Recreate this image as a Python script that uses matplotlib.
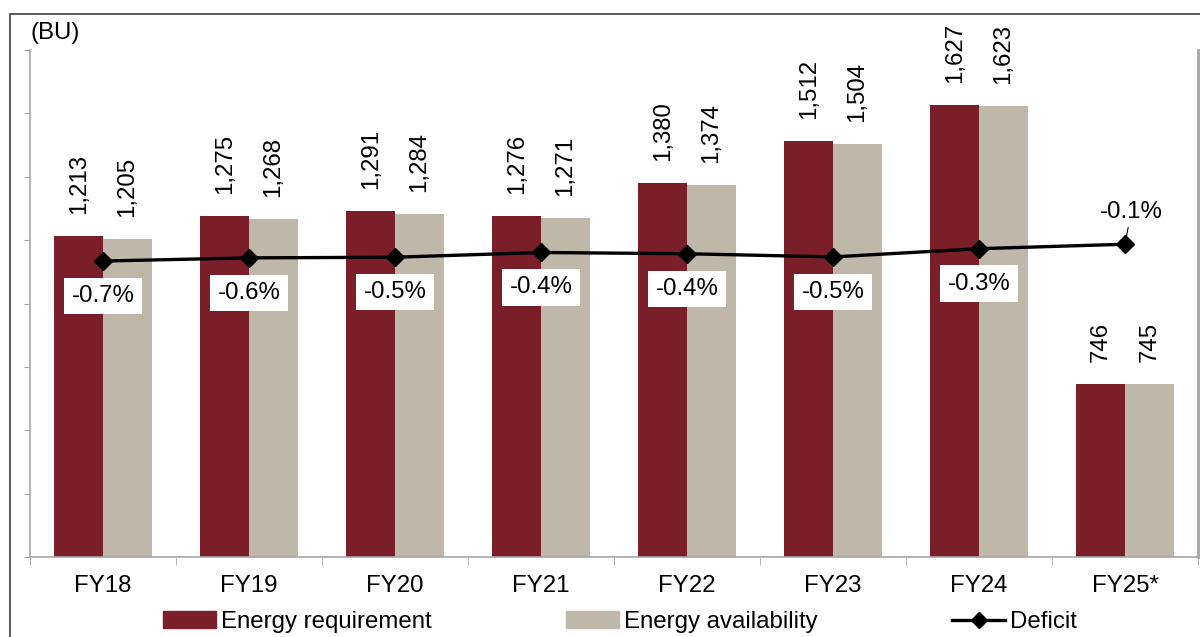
import matplotlib
matplotlib.use("Agg")
import matplotlib.pyplot as plt
from matplotlib.patches import Rectangle
from matplotlib.lines import Line2D
import numpy as np

plt.rcParams['font.family'] = ['Liberation Sans', 'DejaVu Sans']

categories = ["FY18", "FY19", "FY20", "FY21", "FY22", "FY23", "FY24", "FY25*"]
requirement = [1213, 1275, 1291, 1276, 1380, 1512, 1627, 746]
availability = [1205, 1268, 1284, 1271, 1374, 1504, 1623, 745]
deficit = [-0.66, -0.56, -0.54, -0.39, -0.43, -0.53, -0.27, -0.13]

RED = "#7A1E29"
GRAY = "#BEB7AA"
AXC = "#A6A6A6"
FS = 17.3

fig = plt.figure(figsize=(12, 6.37), dpi=100)
ax = fig.add_axes([30/1200, 1-557/637, (1198-30)/1200, (557-50)/637])

x = np.arange(len(categories))
w = 1/3
ax.bar(x - w/2, requirement, width=w, color=RED, zorder=2)
ax.bar(x + w/2, availability, width=w, color=GRAY, zorder=2)

for xi, v in zip(x - w/2, requirement):
    ax.annotate(f"{v:,}", xy=(xi, v), xytext=(0, 22), textcoords="offset pixels",
                rotation=90, ha="center", va="bottom", fontsize=FS)
for xi, v in zip(x + w/2, availability):
    ax.annotate(f"{v:,}", xy=(xi, v), xytext=(0, 22), textcoords="offset pixels",
                rotation=90, ha="center", va="bottom", fontsize=FS)

ax.set_xlim(-0.5, len(categories) - 0.5)
ax.set_ylim(200, 1800)
ax.set_yticks(np.arange(200, 1801, 200))
ax.set_yticklabels([])
ax.tick_params(axis="y", direction="out", length=4, color=AXC)
ax.set_xticks(x)
ax.set_xticklabels(categories, fontsize=FS)
ax.set_xticks(np.arange(-0.5, len(categories), 1), minor=True)
ax.tick_params(axis="x", which="major", length=0, pad=13)
ax.tick_params(axis="x", which="minor", length=6, color=AXC)
for s in ["left", "bottom"]:
    ax.spines[s].set_color(AXC)
    ax.spines[s].set_linewidth(1.2)
ax.spines["top"].set_visible(False)
ax.spines["right"].set_visible(False)

ax2 = ax.twinx()
ax2.set_ylim(-10, 6)
ax2.set_yticks(np.arange(-10, 7, 2))
ax2.set_yticklabels([])
ax2.tick_params(axis="y", direction="out", length=4, color=AXC)
ax2.spines["right"].set_color(AXC)
ax2.spines["right"].set_linewidth(2)
for s in ["left", "top", "bottom"]:
    ax2.spines[s].set_visible(False)
ax2.plot(x, deficit, color="black", lw=2.4, marker="D", ms=9.5, zorder=3)

for i, (xi, d) in enumerate(zip(x, deficit)):
    if i == len(x) - 1:
        ax2.annotate(f"{d:.1f}%", xy=(xi, d), xytext=(6, 32), textcoords="offset pixels",
                     ha="center", va="center", fontsize=FS,
                     arrowprops=dict(arrowstyle="-", color="black", lw=0.8,
                                     shrinkA=1, shrinkB=5))
    else:
        ax2.annotate(f"{d:.1f}%", xy=(xi, d), xytext=(0, -35), textcoords="offset pixels",
                     ha="center", va="center", fontsize=FS,
                     bbox=dict(boxstyle="square,pad=0.3", fc="white", ec="none"))

fig.text(30/1200, 1-33/637, "(BU)", fontsize=FS, ha="left", va="center")

fig.add_artist(Rectangle((10/1200, -0.1), 1.2, 1.1 - 14/637, transform=fig.transFigure,
                         fill=False, ec="#404040", lw=1.2))

handles = [Rectangle((0, 0), 1, 1, color=RED), Rectangle((0, 0), 1, 1, color=GRAY),
           Line2D([], [], color="black", lw=2.4, marker="D", ms=8)]
fig.legend(handles, ["Energy requirement", "Energy availability", "Deficit"],
           loc="center", bbox_to_anchor=(620/1200, 1-622/637), ncol=3, frameon=False,
           fontsize=FS, handlelength=2.2, handleheight=0.7, handletextpad=0.2,
           columnspacing=5.6, borderpad=0)

fig.savefig("out.png", dpi=100)
